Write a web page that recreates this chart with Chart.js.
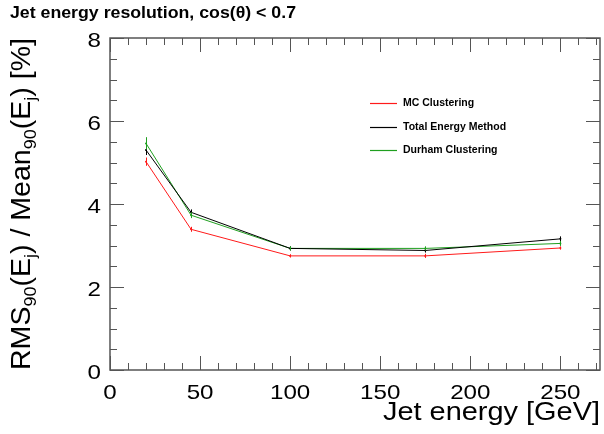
<!DOCTYPE html>
<html>
<head>
<meta charset="UTF-8">
<title>Jet energy resolution</title>
<script src="https://cdn.jsdelivr.net/npm/chart.js"></script>
<style>
  html, body { margin: 0; padding: 0; background: #fff; }
  #wrap { width: 604px; height: 434px; }
</style>
</head>
<body>
<div id="wrap"><canvas id="c" width="604" height="434"></canvas></div>
<script>
// values
const energies = [20, 45, 100, 175, 250];
const mcClustering = [5.02, 3.39, 2.75, 2.75, 2.94];
const mcErr = [0.1, 0.06, 0.04, 0.05, 0.04];
const totalEnergy = [5.30, 3.80, 2.93, 2.88, 3.16];
const totalErr = [0.12, 0.07, 0.05, 0.05, 0.06];
const durham = [5.46, 3.73, 2.93, 2.93, 3.05];
const durhamErr = [0.15, 0.07, 0.05, 0.05, 0.06];
const xTicks = [0, 50, 100, 150, 200, 250];
const yTicks = [0, 2, 4, 6, 8];

const RED = '#ff1a1a', BLACK = '#000000', GREEN = '#1f9f1f';
const FONT = '"Liberation Sans", Arial, sans-serif';
const STRETCH = 1.15; // glyphs in the original are a bit wider than Arial

function pts(ys) { return energies.map((x, i) => ({ x: x, y: ys[i] })); }

// text squeezed/stretched along its direction
function label(ctx, str, x, y, font, align, sx) {
  ctx.save();
  ctx.font = font;
  ctx.textAlign = align;
  ctx.translate(x, y);
  ctx.scale(sx, 1);
  ctx.fillText(str, 0, 0);
  ctx.restore();
}

// error bars, inward ticks, frame, labels, legend
const rootStyle = {
  id: 'rootStyle',
  afterDatasetsDraw(chart) {
    const ctx = chart.ctx, xs = chart.scales.x, ys = chart.scales.y;
    const a = chart.chartArea;
    ctx.save();
    // error bars
    chart.data.datasets.forEach(ds => {
      ctx.strokeStyle = ds.borderColor;
      ctx.lineWidth = 1;
      ds.data.forEach((p, i) => {
        const px = Math.round(xs.getPixelForValue(p.x)) + 0.5;
        ctx.beginPath();
        ctx.moveTo(px, ys.getPixelForValue(p.y - ds.errs[i]));
        ctx.lineTo(px, ys.getPixelForValue(p.y + ds.errs[i]));
        ctx.stroke();
      });
    });
    // frame
    ctx.strokeStyle = '#555';
    ctx.lineWidth = 1.5;
    ctx.strokeRect(a.left, a.top, a.right - a.left, a.bottom - a.top);
    // ticks
    ctx.lineWidth = 1;
    for (let v = 0; v <= xs.max; v += 10) {
      const px = Math.round(xs.getPixelForValue(v)) + 0.5;
      const len = v % 50 === 0 ? 14 : 7;
      ctx.beginPath();
      ctx.moveTo(px, a.bottom); ctx.lineTo(px, a.bottom - len);
      ctx.moveTo(px, a.top); ctx.lineTo(px, a.top + len);
      ctx.stroke();
    }
    for (let v = 0; v <= ys.max + 0.001; v += 0.5) {
      const py = Math.round(ys.getPixelForValue(v)) + 0.5;
      const len = Math.abs(v % 2) < 0.001 ? 14 : 7;
      ctx.beginPath();
      ctx.moveTo(a.left, py); ctx.lineTo(a.left + len, py);
      ctx.moveTo(a.right, py); ctx.lineTo(a.right - len, py);
      ctx.stroke();
    }
    ctx.fillStyle = '#000';
    ctx.textBaseline = 'alphabetic';
    // tick labels
    const tickFont = '21px ' + FONT;
    xTicks.forEach(v => label(ctx, String(v), xs.getPixelForValue(v), 399, tickFont, 'center', STRETCH));
    yTicks.forEach(v => label(ctx, String(v), 101, ys.getPixelForValue(v) + 9, tickFont, 'right', STRETCH));
    // title
    ctx.font = 'bold 16px ' + FONT;
    const title = 'Jet energy resolution, cos(\u03b8) < 0.7';
    label(ctx, title, 10, 18, ctx.font, 'left', 286 / ctx.measureText(title).width);
    // x title
    ctx.font = '25px ' + FONT;
    const xt = 'Jet energy [GeV]';
    label(ctx, xt, 600, 420, ctx.font, 'right', 217 / ctx.measureText(xt).width);
    // y title with subscripts, rotated, right edge at frame top
    const parts = [['RMS', 0], ['90', 1], ['(E', 0], ['j', 1], [') / Mean', 0], ['90', 1], ['(E', 0], ['j', 1], [') [%]', 0]];
    const fontOf = p => (p[1] ? '17px ' : '27px ') + FONT;
    let w = 0;
    parts.forEach(p => { ctx.font = fontOf(p); w += ctx.measureText(p[0]).width; });
    const sy = 332 / w;
    ctx.translate(30, 38);
    ctx.rotate(-Math.PI / 2);
    ctx.scale(sy, 1);
    let x = -w;
    ctx.textAlign = 'left';
    parts.forEach(p => {
      ctx.font = fontOf(p);
      ctx.fillText(p[0], x, p[1] ? 6 : 0);
      x += ctx.measureText(p[0]).width;
    });
    ctx.setTransform(1, 0, 0, 1, 0, 0);
    // legend
    ctx.textBaseline = 'middle';
    chart.data.datasets.forEach((ds, i) => {
      const y = 103 + i * 23.7;
      ctx.strokeStyle = ds.borderColor;
      ctx.lineWidth = 1.2;
      ctx.beginPath();
      ctx.moveTo(370, Math.round(y) + 0.5); ctx.lineTo(397, Math.round(y) + 0.5);
      ctx.stroke();
      ctx.font = 'bold 10.5px ' + FONT;
      label(ctx, ds.label, 403, y, ctx.font, 'left', 1.0);
    });
    ctx.restore();
  }
};

new Chart(document.getElementById('c'), {
  type: 'line',
  data: {
    datasets: [
      { label: 'MC Clustering', data: pts(mcClustering), errs: mcErr, borderColor: RED },
      { label: 'Total Energy Method', data: pts(totalEnergy), errs: totalErr, borderColor: BLACK },
      { label: 'Durham Clustering', data: pts(durham), errs: durhamErr, borderColor: GREEN }
    ].map(d => Object.assign(d, { borderWidth: 1, pointRadius: 1, pointBackgroundColor: d.borderColor, pointBorderWidth: 0, tension: 0, fill: false }))
  },
  options: {
    responsive: false,
    animation: false,
    layout: { padding: { top: 38, right: 4, left: 0, bottom: 0 } },
    plugins: { legend: { display: false }, tooltip: { enabled: false } },
    scales: {
      x: {
        type: 'linear', min: 0, max: 272,
        grid: { display: false }, border: { display: false },
        afterFit(s) { s.height = 64; },
        afterBuildTicks(s) { s.ticks = xTicks.map(v => ({ value: v })); },
        ticks: { display: false }
      },
      y: {
        type: 'linear', min: 0, max: 8,
        grid: { display: false }, border: { display: false },
        afterFit(s) { s.width = 110; },
        afterBuildTicks(s) { s.ticks = yTicks.map(v => ({ value: v })); },
        ticks: { display: false }
      }
    }
  },
  plugins: [rootStyle]
});
</script>
</body>
</html>
